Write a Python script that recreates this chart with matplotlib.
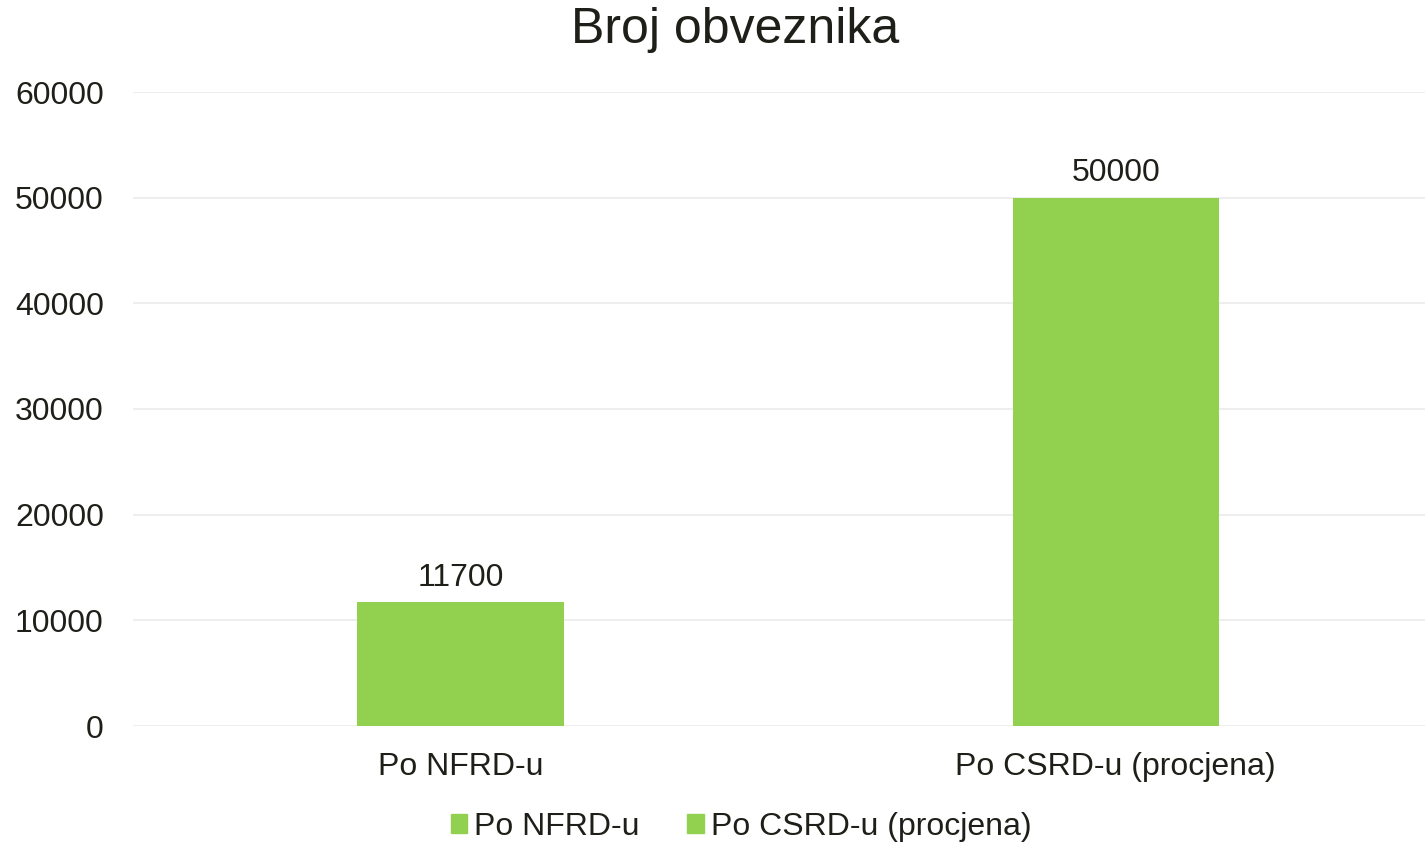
import matplotlib
matplotlib.use("Agg")
import matplotlib.pyplot as plt
from matplotlib.patches import Patch

categories = ["Po NFRD-u", "Po CSRD-u (procjena)"]
values = [11700, 50000]
yticks = [0, 10000, 20000, 30000, 40000, 50000, 60000]
title = "Broj obveznika"

plt.rcParams['font.family'] = ['Liberation Sans', 'DejaVu Sans']
TXT = '#1f1f19'
GREEN = '#92D050'
FS = 23

fig = plt.figure(figsize=(14.25, 8.42), dpi=100)
ax = fig.add_axes([133/1425, 1-726/842, 1-133/1425, (726-92)/842])

for i, (c, v) in enumerate(zip(categories, values)):
    b = ax.bar(i, v, width=0.315, color=GREEN, zorder=3, label=c)
    ax.bar_label(b, labels=[f"{v}"], padding=7, fontsize=FS, color=TXT)

ax.set_xlim(-0.5, 1.472)
ax.set_ylim(0, 60000)
ax.set_yticks(yticks)
ax.set_yticklabels([str(t) for t in yticks], fontsize=FS, color=TXT)
ax.set_xticks(range(len(categories)))
ax.set_xticklabels(categories, fontsize=FS, color=TXT)
ax.tick_params(axis='both', length=0)
ax.tick_params(axis='y', pad=21)
ax.tick_params(axis='x', pad=19)
ax.grid(axis='y', color='#ebebeb', linewidth=1.2, zorder=0)
for s in ax.spines.values():
    s.set_visible(False)

fig.text(735/1425, 1-30/842, title, ha='center', va='center', fontsize=36, color=TXT)

handles = [Patch(color=GREEN, label=c) for c in categories]
leg = fig.legend(handles=handles, loc='center', bbox_to_anchor=(741/1425, 1-827/842),
                 ncol=2, frameon=False, fontsize=FS, handlelength=0.53, handleheight=0.53,
                 handletextpad=0.22, columnspacing=1.47)
for t in leg.get_texts():
    t.set_color(TXT)

fig.savefig("out.png", dpi=100)
